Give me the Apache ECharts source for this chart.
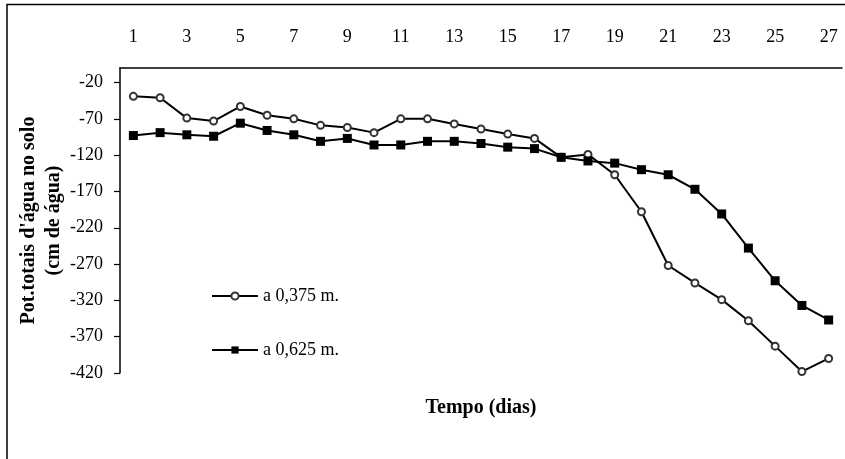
<!DOCTYPE html>
<html>
<head>
<meta charset="utf-8">
<script src="https://cdn.jsdelivr.net/npm/echarts@6/dist/echarts.min.js"></script>
<style>
html,body{margin:0;padding:0;background:#fff;}
#chart{width:845px;height:459px;}
</style>
</head>
<body>
<div id="chart"></div>
<script>
const days = ['1','2','3','4','5','6','7','8','9','10','11','12','13','14','15','16','17','18','19','20','21','22','23','24','25','26','27'];
const s0375 = [-39,-41,-69,-73,-53,-65,-70,-79,-82,-89,-70,-70,-77,-84,-91,-97,-123,-119,-147,-198,-272,-296,-319,-348,-383,-418,-400];
const s0625 = [-93,-89,-92,-94,-76,-86,-92,-101,-97,-106,-106,-101,-101,-104,-109,-111,-123,-128,-131,-140,-147,-167,-201,-248,-293,-327,-347];
const yTicks = [-420,-370,-320,-270,-220,-170,-120,-70,-20];
const names = ['a 0,375 m.','a 0,625 m.'];

const font = 'Liberation Serif';
const chart = echarts.init(document.getElementById('chart'));
chart.setOption({
  animation:false,
  backgroundColor:'#fff',
  grid:{left:120,right:3,top:68,bottom:86,containLabel:false,outerBoundsMode:'none'},
  legend:{
    orient:'vertical',left:211,top:287,padding:0,itemGap:36,itemWidth:46,itemHeight:9,
    textStyle:{fontFamily:font,fontSize:18,color:'#000'},
    data:names
  },
  xAxis:{
    type:'category',data:days,position:'top',boundaryGap:true,
    axisLine:{lineStyle:{color:'#000',width:1.5}},
    axisTick:{inside:true,interval:0,length:5,lineStyle:{color:'#000',width:1.2}},
    axisLabel:{interval:1,margin:22,color:'#000',fontFamily:font,fontSize:18},
    splitLine:{show:false}
  },
  yAxis:{
    type:'value',min:-420,max:0,
    axisLine:{show:true,lineStyle:{color:'#000',width:1.5}},
    axisTick:{show:true,length:6,customValues:yTicks,lineStyle:{color:'#000',width:1.2}},
    axisLabel:{customValues:yTicks,margin:17,color:'#000',fontFamily:font,fontSize:18},
    splitLine:{show:false},
    name:"Pot.totais d'água no solo\n(cm de água)",
    nameLocation:'middle',nameRotate:90,nameGap:54,nameMoveOverlap:false,
    nameTextStyle:{fontFamily:font,fontSize:20,fontWeight:'bold',color:'#000',lineHeight:25}
  },
  graphic:[
    {type:'rect',shape:{x:7,y:4.5,width:900,height:500},style:{fill:'none',stroke:'#000',lineWidth:1.5},silent:true},
    {type:'text',x:481,y:408,style:{text:'Tempo (dias)',fontFamily:font,fontSize:20,fontWeight:'bold',fill:'#000',textAlign:'center',textVerticalAlign:'middle'}}
  ],
  series:[
    {name:names[0],type:'line',data:s0375,symbol:'circle',symbolSize:7,
     lineStyle:{color:'#000',width:2},
     itemStyle:{color:'#fff',borderColor:'#333',borderWidth:2}},
    {name:names[1],type:'line',data:s0625,symbol:'rect',symbolSize:9,
     lineStyle:{color:'#000',width:2},
     itemStyle:{color:'#000'}}
  ]
});
</script>
</body>
</html>
